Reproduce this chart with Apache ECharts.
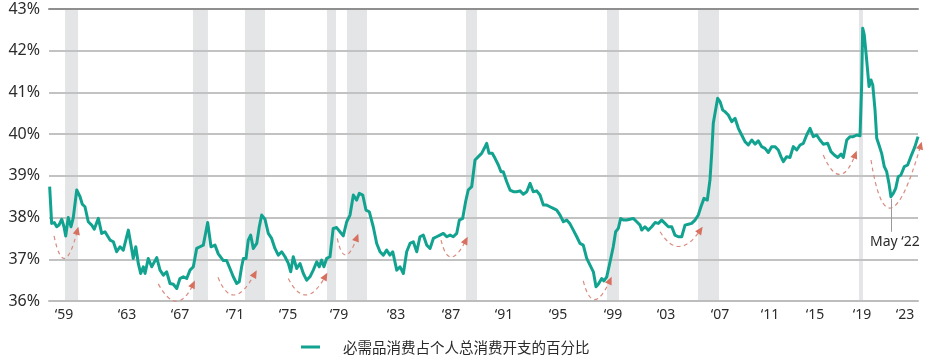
<!DOCTYPE html>
<html><head><meta charset="utf-8">
<script src="https://cdn.jsdelivr.net/npm/echarts@6/dist/echarts.min.js"></script>
<style>html,body{margin:0;padding:0;background:#fff}#c{width:938px;height:357px}</style>
</head><body><div id="c"></div>
<script>
const seriesName = '必需品消费占个人总消费开支的百分比';
const years = [1959.05,1959.20,1959.40,1959.58,1959.75,1959.96,1960.13,1960.26,1960.45,1960.66,1960.83,1961.09,1961.34,1961.51,1961.71,1961.96,1962.22,1962.41,1962.72,1962.97,1963.22,1963.60,1963.85,1964.10,1964.35,1964.60,1964.98,1965.18,1965.35,1965.54,1965.73,1965.91,1966.11,1966.24,1966.48,1966.74,1967.12,1967.37,1967.62,1967.87,1968.12,1968.37,1968.63,1968.87,1969.12,1969.38,1969.63,1969.88,1970.13,1970.38,1970.63,1970.96,1971.21,1971.51,1971.76,1972.14,1972.39,1972.64,1972.89,1973.15,1973.34,1973.52,1973.65,1973.85,1974.02,1974.20,1974.40,1974.66,1974.85,1975.03,1975.28,1975.53,1975.78,1976.03,1976.28,1976.54,1976.79,1977.04,1977.22,1977.41,1977.67,1977.92,1978.17,1978.42,1978.67,1978.92,1979.18,1979.37,1979.55,1979.72,1979.93,1980.18,1980.42,1980.68,1980.93,1981.18,1981.44,1981.69,1981.94,1982.19,1982.39,1982.65,1982.89,1983.14,1983.44,1983.70,1983.95,1984.20,1984.45,1984.70,1984.91,1985.21,1985.46,1985.71,1985.96,1986.21,1986.46,1986.72,1986.96,1987.21,1987.47,1987.72,1987.97,1988.22,1988.47,1988.72,1988.98,1989.23,1989.47,1989.73,1989.93,1990.18,1990.40,1990.60,1990.86,1991.11,1991.36,1991.61,1991.81,1991.99,1992.17,1992.41,1992.62,1992.87,1993.07,1993.24,1993.50,1993.75,1994.00,1994.25,1994.50,1994.75,1995.01,1995.26,1995.50,1995.76,1996.01,1996.26,1996.51,1996.76,1997.01,1997.27,1997.52,1997.77,1998.02,1998.27,1998.52,1998.78,1999.02,1999.27,1999.53,1999.78,2000.03,2000.23,2000.40,2000.66,2000.83,2001.04,2001.29,2001.53,2001.71,2001.91,2002.09,2002.29,2002.54,2002.79,2003.04,2003.30,2003.55,2003.67,2003.92,2004.17,2004.43,2004.68,2004.93,2005.18,2005.43,2005.68,2005.94,2006.18,2006.43,2006.69,2006.94,2007.19,2007.44,2007.69,2007.94,2008.14,2008.37,2008.62,2008.82,2008.95,2009.07,2009.20,2009.40,2009.58,2009.78,2009.95,2010.20,2010.46,2010.71,2010.96,2011.21,2011.46,2011.71,2011.97,2012.22,2012.46,2012.72,2012.97,2013.22,2013.47,2013.72,2013.97,2014.17,2014.35,2014.60,2014.85,2015.10,2015.36,2015.61,2015.86,2016.11,2016.36,2016.61,2016.86,2017.11,2017.36,2017.69,2017.94,2018.19,2018.45,2018.70,2018.87,2019.13,2019.38,2019.62,2019.88,2020.13,2020.25,2020.33,2020.45,2020.63,2020.81,2020.96,2021.09,2021.26,2021.39,2021.56,2021.76,2021.96,2022.14,2022.31,2022.46,2022.64,2022.82,2023.01,2023.21,2023.47,2023.72,2023.96,2024.27,2024.50];
const values = [38.74,37.86,37.88,37.78,37.82,37.96,37.78,37.56,38.00,37.78,38.00,38.66,38.50,38.32,38.26,37.90,37.82,37.72,37.98,37.62,37.66,37.46,37.42,37.18,37.30,37.22,37.70,37.34,37.02,37.30,36.90,36.66,36.82,36.66,37.02,36.82,37.04,36.74,36.62,36.70,36.42,36.40,36.30,36.54,36.58,36.54,36.74,36.82,37.26,37.30,37.34,37.88,37.30,37.34,37.13,36.97,36.97,36.78,36.58,36.42,36.46,36.82,37.02,37.02,37.46,37.58,37.26,37.38,37.78,38.06,37.96,37.62,37.50,37.26,37.10,37.18,37.06,36.90,36.70,37.06,36.78,36.90,36.66,36.50,36.58,36.74,36.94,36.82,36.98,36.82,37.02,37.06,37.74,37.76,37.66,37.56,37.90,38.06,38.54,38.42,38.58,38.54,38.18,38.14,37.78,37.38,37.18,37.10,37.22,37.10,37.18,36.74,36.82,36.66,37.18,37.38,37.42,37.18,37.54,37.58,37.34,37.26,37.50,37.54,37.58,37.62,37.54,37.58,37.54,37.62,37.94,37.98,38.38,38.66,38.74,39.38,39.46,39.54,39.66,39.78,39.54,39.54,39.42,39.26,39.10,39.10,38.86,38.66,38.62,38.62,38.64,38.56,38.62,38.82,38.62,38.64,38.54,38.30,38.30,38.26,38.22,38.18,38.06,37.90,37.94,37.85,37.70,37.54,37.38,37.34,37.02,36.86,36.70,36.34,36.40,36.54,36.48,36.58,36.94,37.30,37.66,37.74,37.98,37.94,37.94,37.96,37.98,37.90,37.82,37.70,37.78,37.70,37.78,37.88,37.86,37.94,37.86,37.78,37.78,37.58,37.54,37.54,37.82,37.84,37.86,37.94,38.06,38.26,38.46,38.42,38.90,39.54,40.26,40.50,40.86,40.78,40.58,40.54,40.46,40.30,40.38,40.14,39.98,39.82,39.74,39.86,39.76,39.84,39.70,39.66,39.56,39.70,39.70,39.62,39.46,39.34,39.46,39.44,39.70,39.62,39.74,39.78,39.98,40.14,39.94,39.98,39.86,39.76,39.78,39.58,39.50,39.44,39.52,39.44,39.86,39.94,39.94,39.98,39.96,41.14,42.54,42.38,41.78,41.14,41.30,41.18,40.58,39.90,39.74,39.54,39.22,39.10,38.82,38.50,38.58,38.70,38.98,39.02,39.22,39.26,39.46,39.70,39.94];
const tickYears = [1960.13,1964.88,1968.87,1973.02,1977.01,1980.86,1985.16,1989.30,1993.30,1997.37,2001.51,2005.50,2009.58,2013.35,2016.74,2020.28,2023.52];
const tickLabels = ['‘59','‘63','‘67','‘71','‘75','‘79','‘83','‘87','‘91','‘95','‘99','‘03','‘07','‘11','‘15','‘19','‘23'];
const yTicks = [36, 37, 38, 39, 40, 41, 42, 43];
const recessionStart = [1960.21,1969.85,1973.77,1979.95,1981.46,1990.43,2001.06,2007.92,2020.05];
const recessionEnd   = [1961.19,1970.98,1975.28,1980.63,1982.97,1991.26,2001.96,2009.50,2020.35];
// arc annotations: start (year,value), bottom (year,value), arrow tip (year,value)
const arcs = [
  [1959.38,37.56, 1960.21,37.05, 1961.21,37.78],
  [1967.24,36.41, 1968.63,36.02, 1970.00,36.49],
  [1971.74,36.57, 1973.02,36.17, 1974.66,36.74],
  [1977.04,36.54, 1978.42,36.17, 1979.98,36.68],
  [1980.73,37.50, 1981.39,37.13, 1982.31,37.61],
  [1988.55,37.46, 1989.35,37.08, 1990.56,37.54],
  [1999.27,36.48, 2000.16,36.06, 2001.41,36.58],
  [2005.06,37.66, 2006.56,37.33, 2008.27,37.78],
  [2017.36,39.50, 2018.62,39.06, 2019.88,39.60],
  [2020.96,39.38, 2022.52,38.26, 2024.78,39.82]
];
const calloutYear = 2022.46, calloutFrom = 38.45, calloutTo = 37.66, calloutText = 'May ‘22';

const FONT = "'Noto Sans', 'Noto Sans CJK SC', sans-serif";
const TEXT = '#2b2b2b';
const chart = echarts.init(document.getElementById('c'), null, {renderer: 'canvas'});
const lineData = years.map((y, i) => [y, values[i]]);

chart.setOption({
  animation: false,
  textStyle: {fontFamily: FONT},
  grid: {left: 49, right: 20, top: 9, bottom: 56, containLabel: false},
  legend: {
    data: [{name: seriesName, icon: 'rect'}],
    left: 296, top: 334,
    itemWidth: 19, itemHeight: 3,
    selectedMode: false,
    textStyle: {fontSize: 14.5, color: TEXT, fontFamily: "'Noto Sans CJK SC', sans-serif", lineHeight: 16,
      rich: {g: {width: 18, lineHeight: 16}}},
    formatter: n => '{g|}' + n
  },
  xAxis: [{
    type: 'value', min: 1959, max: 2024.5,
    axisLine: {show: true, lineStyle: {color: '#bdbdbd', width: 2}},
    axisTick: {show: false},
    splitLine: {show: false},
    axisLabel: {
      customValues: tickYears,
      color: TEXT, fontSize: 14, margin: 7, fontFamily: FONT,
      formatter: v => { const i = tickYears.findIndex(t => Math.abs(t - v) < 1e-6); return i >= 0 ? tickLabels[i] : ''; }
    }
  }, {
    type: 'value', min: 1959, max: 2024.5, position: 'top',
    axisLine: {show: true, lineStyle: {color: '#8f8f8f', width: 2}},
    axisTick: {show: false}, axisLabel: {show: false}, splitLine: {show: false}
  }],
  yAxis: {
    type: 'value', min: 36, max: 43, interval: 1,
    axisLine: {show: false}, axisTick: {show: false},
    splitLine: {show: true, lineStyle: {color: yTicks.map(t => t === 43 ? '#8f8f8f' : '#c2c2c2'), width: 2}},
    axisLabel: {color: TEXT, fontSize: 16, margin: 9, formatter: '{value}%', fontFamily: FONT}
  },
  series: [
    {
      type: 'line', name: 'recessions', data: [], z: -5, silent: true,
      markArea: {
        silent: true, z: -5,
        itemStyle: {color: '#e4e5e7'},
        data: recessionStart.map((s, i) => [{xAxis: s}, {xAxis: recessionEnd[i]}])
      }
    },
    {
      type: 'custom', name: 'arcs', silent: true, z: 4, clip: false,
      data: arcs,
      encode: {x: [0, 2, 4], y: [1, 3, 5]},
      renderItem: (params, api) => {
        const S = api.coord([api.value(0), api.value(1)]);
        const B = api.coord([api.value(2), api.value(3)]);
        const E = api.coord([api.value(4), api.value(5)]);
        const C = [2 * B[0] - (S[0] + E[0]) / 2, 2 * B[1] - (S[1] + E[1]) / 2];
        let dx = E[0] - C[0], dy = E[1] - C[1];
        const L = Math.hypot(dx, dy); dx /= L; dy /= L;
        const len = 8, hw = 3.6;
        const base = [E[0] - dx * len, E[1] - dy * len];
        const endLine = [E[0] - dx * len * 0.6, E[1] - dy * len * 0.6];
        return {
          type: 'group',
          children: [
            {type: 'bezierCurve', shape: {x1: S[0], y1: S[1], x2: endLine[0], y2: endLine[1], cpx1: C[0], cpy1: C[1]},
             style: {stroke: '#d98c80', lineWidth: 1.2, lineDash: [4, 3.5], fill: null}},
            {type: 'polygon', shape: {points: [E, [base[0] - dy * hw, base[1] + dx * hw], [base[0] + dy * hw, base[1] - dx * hw]]},
             style: {fill: '#d8705f', stroke: null}}
          ]
        };
      }
    },
    {
      type: 'line', name: seriesName, data: lineData, z: 3,
      showSymbol: false, symbol: 'none',
      lineStyle: {color: '#12a390', width: 3, join: 'round'},
      itemStyle: {color: '#12a390'},
      emphasis: {disabled: true},
      markLine: {
        silent: true, symbol: 'none',
        lineStyle: {color: '#9a9a9a', width: 1, type: 'solid'},
        label: {show: true, position: 'end', formatter: calloutText, color: TEXT, fontSize: 14, distance: 3,
          padding: [0, 0, 0, 8], fontFamily: FONT},
        data: [[{coord: [calloutYear, calloutFrom]}, {coord: [calloutYear, calloutTo]}]]
      }
    }
  ]
});
</script>
</body></html>
